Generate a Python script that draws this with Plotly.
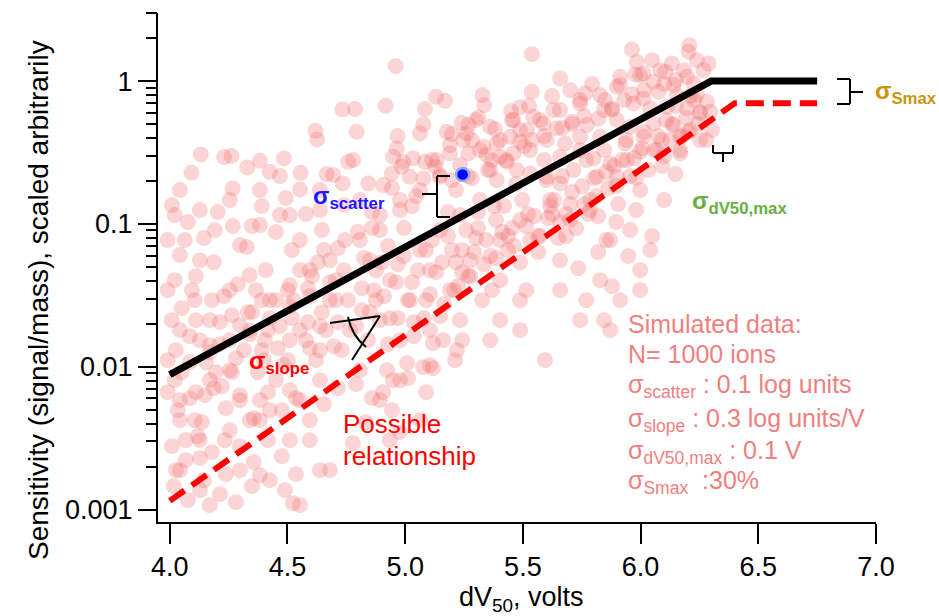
import plotly.graph_objects as go

# ---------------- data ----------------
# simulated ions, read off the picture region by region:
# dV50 (volts) and log10(sensitivity)
upper_left_dv50 = [4.734, 4.619, 4.626, 4.132, 4.231, 4.262, 4.329, 4.383, 4.425, 4.468, 4.485, 4.092, 4.556, 4.666, 4.694, 4.734, 4.267, 4.553, 4.758]
upper_left_logs = [-0.198, -0.348, -0.408, -0.513, -0.532, -0.525, -0.604, -0.558, -0.635, -0.665, -0.541, -0.642, -0.642, -0.651, -0.658, -0.716, -0.751, -0.758, -0.565]

upper_mid_dv50 = [
    4.960, 5.538, 5.328, 5.131, 5.169, 5.336, 5.538, 4.787, 4.917, 5.084, 5.450, 5.488, 5.526, 5.311, 5.361, 5.382, 5.240, 5.268, 5.301,
    5.077, 5.063, 5.177, 5.198, 4.794, 4.968, 5.460, 5.517, 5.545, 5.446, 5.247, 5.261, 5.190, 4.964, 5.332, 5.389, 5.488, 4.949, 4.992,
    5.034, 5.084, 5.134, 5.190, 5.268, 5.346, 5.403, 5.460, 5.531, 4.779, 4.943, 4.985, 5.127, 5.148, 5.077, 5.020, 4.843, 4.907, 5.283,
    5.361, 5.389, 5.474, 5.531, 5.432]
upper_mid_logs = [
    0.105, 0.189, -0.098, -0.110, -0.138, -0.168, -0.075, -0.196, -0.173, -0.196, -0.210, -0.184, -0.175, -0.254, -0.320, -0.336, -0.292, -0.308, -0.273,
    -0.303, -0.366, -0.355, -0.371, -0.355, -0.385, -0.273, -0.343, -0.250, -0.390, -0.413, -0.366, -0.448, -0.471, -0.460, -0.436, -0.425, -0.530, -0.565,
    -0.541, -0.565, -0.553, -0.506, -0.506, -0.518, -0.530, -0.506, -0.483, -0.553, -0.646, -0.600, -0.600, -0.670, -0.681, -0.670, -0.716, -0.728, -0.681,
    -0.623, -0.693, -0.623, -0.646, -0.565]

upper_right_dv50 = [
    6.207, 6.204, 5.963, 5.984, 6.012, 5.977, 6.133, 6.239, 6.289, 6.267, 6.105, 5.658, 5.913, 5.899, 6.197, 6.225, 5.701, 5.764, 6.055,
    6.076, 6.140, 6.154, 6.239, 6.282, 5.630, 5.743, 5.849, 5.878, 5.970, 6.012, 6.041, 6.112, 6.197, 6.253, 6.296, 5.587, 5.644, 5.708,
    5.772, 5.821, 5.899, 5.956, 6.055, 6.140, 6.211, 6.303, 6.253, 6.168, 6.090, 6.012, 5.602, 5.679, 5.743, 5.828, 5.935, 5.998, 6.069,
    6.168, 5.743, 5.658, 5.800, 5.871, 5.942, 6.148, 5.715, 5.814, 5.602, 5.899, 5.658]
upper_right_logs = [
    0.252, 0.205, 0.222, 0.135, 0.054, 0.047, 0.124, 0.147, 0.124, 0.077, 0.065, 0.019, 0.030, -0.040, 0.030, -0.016, -0.063, -0.086, -0.005,
    -0.075, -0.028, -0.098, -0.098, -0.145, -0.203, -0.156, -0.133, -0.191, -0.156, -0.121, -0.191, -0.180, -0.191, -0.226, -0.215, -0.296, -0.331, -0.285,
    -0.308, -0.261, -0.273, -0.320, -0.296, -0.308, -0.343, -0.343, -0.413, -0.390, -0.413, -0.390, -0.413, -0.436, -0.390, -0.390, -0.436, -0.495, -0.483,
    -0.506, -0.483, -0.530, -0.541, -0.576, -0.553, -0.651, -0.623, -0.670, -0.670, -0.670, -0.716]

lower_left_dv50 = [
    4.021, 4.064, 4.128, 4.191, 4.298, 4.383, 4.468, 4.553, 4.638, 4.021, 4.106, 4.255, 4.340, 4.425, 4.510, 4.595, 4.680, 4.043, 4.170,
    4.298, 4.404, 4.553, 4.638, 4.021, 4.149, 4.255, 4.383, 4.510, 4.638, 4.043, 4.128, 4.255, 4.383, 4.510, 4.638, 4.043, 4.128, 4.298,
    4.425, 4.553, 4.170, 4.680, 4.744,
    4.009, 4.077, 4.145, 4.204, 4.268, 4.327, 4.391, 4.451, 4.519, 4.578, 4.646, 4.714, 4.043, 4.187, 4.349, 4.493, 4.629, 4.740,
    3.991, 4.051, 4.111, 4.170, 4.230, 4.289, 4.349, 4.408, 4.468, 4.527, 4.587, 4.646, 4.706, 4.026, 4.085, 4.153, 4.213, 4.281,
    4.340, 4.400, 4.459, 4.519, 4.578, 4.638, 4.697, 4.757, 4.816, 4.876,
    3.991, 4.034, 4.085, 4.136, 4.187, 4.238, 4.298, 4.357, 4.417, 4.476, 4.536, 4.595, 4.655, 4.714, 4.009, 4.068, 4.119, 4.179,
    4.238, 4.298, 4.357, 4.417, 4.476, 4.536, 4.017, 4.077, 4.145, 4.213, 4.281, 4.349, 4.523, 4.051, 4.196,
    4.043, 4.106, 4.170, 4.234, 4.298, 4.340, 4.068, 4.264, 4.128, 4.026,
    4.391, 4.451, 4.510, 4.553, 4.621, 4.663, 4.425, 4.587, 4.485, 4.706, 4.765, 4.816, 4.867, 4.731, 4.842,
    3.991, 4.043, 4.128, 4.255, 4.383, 4.510, 4.638, 4.009, 4.094, 4.179, 4.264, 4.366, 4.451, 4.553, 4.655, 3.991, 4.111, 4.315, 4.417,
    4.595, 4.680, 4.383, 4.489,
    4.740, 4.680, 4.595, 4.510, 4.425, 4.340, 4.255, 4.170, 4.085,
    4.128, 4.213, 4.332, 4.391, 4.502, 4.604, 4.111, 4.221, 4.374, 4.502, 4.595, 4.714]
lower_left_logs = [
    -0.938, -1.113, -1.254, -1.043, -1.148, -1.008, -0.938, -1.113, -0.903, -1.394, -1.534, -1.464, -1.359, -1.534, -1.429, -1.324, -1.254, -1.744, -1.849,
    -1.709, -1.814, -1.744, -1.884, -2.094, -2.199, -2.024, -2.234, -2.164, -2.094, -2.374, -2.514, -2.444, -2.374, -2.514, -2.724, -2.724, -2.864, -2.724,
    -2.794, -2.969, -2.969, -1.534, -1.113,
    -0.868, -0.987, -1.099, -0.917, -1.015, -1.162, -0.875, -1.057, -1.183, -0.931, -1.043, -1.169, -1.218, -1.268, -1.015, -0.819, -1.268, -0.868,
    -1.464, -1.590, -1.366, -1.674, -1.506, -1.422, -1.618, -1.324, -1.716, -1.534, -1.450, -1.618, -1.394, -1.884, -1.786, -1.968, -1.842, -1.940,
    -1.772, -1.954, -1.870, -1.660, -1.814, -1.716, -1.856, -1.534, -1.450, -1.324,
    -2.178, -2.304, -2.220, -2.388, -2.150, -2.290, -2.199, -2.360, -2.178, -2.304, -2.220, -2.374, -2.262, -2.150, -2.556, -2.654, -2.486, -2.598,
    -2.752, -2.556, -2.668, -2.514, -2.626, -2.752, -2.836, -2.934, -2.794, -2.892, -2.948, -2.836, -2.955, -2.038, -2.038,
    -2.234, -2.374, -2.094, -2.514, -2.234, -2.374, -2.514, -2.038, -2.640, -2.724,
    -1.884, -2.094, -1.814, -2.234, -1.954, -1.744, -2.304, -1.688, -1.989, -1.534, -1.744, -1.604, -1.464, -1.884, -1.814,
    -1.113, -0.763, -0.903, -0.833, -0.763, -0.938, -0.763, -1.674, -1.464, -1.534, -1.639, -1.464, -1.534, -1.324, -1.183, -1.954, -1.674, -1.884, -1.744,
    -2.514, -2.724, -2.759, -2.864,
    -1.324, -1.408, -1.506, -1.576, -1.660, -1.744, -1.814, -1.898, -1.968,
    -1.814, -1.688, -1.618, -1.534, -1.464, -1.366, -2.178, -2.136, -2.038, -1.954, -1.870, -1.688]

middle_dv50 = [
    4.808, 4.893, 4.978, 5.063, 5.148, 5.233, 5.318, 5.403, 5.488, 4.850, 4.935, 5.020, 5.105, 5.190, 5.276, 5.403, 5.488, 4.893, 4.978,
    5.105, 5.233, 5.361, 5.488,
    4.808, 4.893, 4.978, 5.105, 5.212, 4.935, 5.063, 5.594,
    4.799, 4.859, 4.927, 4.995, 5.046, 5.114, 5.182, 5.242, 5.310, 5.378, 5.437, 5.522, 4.825, 4.969, 5.157, 5.386, 5.565,
    4.791, 4.850, 4.910, 4.969, 5.029, 5.089, 5.148, 5.208, 4.927, 5.037, 5.267, 5.327, 5.403, 5.514, 5.242,
    4.791, 4.859, 4.944, 5.012, 5.089, 4.833, 4.978,
    4.906, 4.923, 4.948, 5.008, 5.076, 5.118, 5.220, 5.118, 5.161, 4.778,
    4.901, 4.961, 5.012, 5.054, 4.935, 4.995, 4.876, 5.037, 5.088, 5.131, 5.182, 5.216, 5.105, 5.165, 5.224, 5.080,
    5.259, 5.293, 5.344, 5.386, 5.276, 5.335, 5.369, 5.310, 5.420, 5.454, 5.497, 5.548, 5.437, 5.488, 5.531, 5.565, 5.471,
    4.808, 4.893, 4.978, 5.063, 5.148, 5.233, 5.318, 5.403, 5.488,
    4.859, 4.944, 5.029, 5.114, 5.199, 5.284, 5.369, 5.454, 5.539,
    5.199, 5.242, 5.301, 5.361, 5.412, 5.463, 5.514, 5.573,
    5.216, 5.267, 5.352, 5.429, 5.505]
middle_logs = [
    -0.833, -1.043, -0.903, -1.183, -1.043, -0.938, -0.833, -1.113, -0.973, -1.254, -1.394, -1.534, -1.324, -1.464, -1.254, -1.394, -1.534, -1.674, -1.814,
    -1.744, -1.674, -1.814, -1.744,
    -2.024, -2.234, -2.094, -1.989, -1.954, -2.514, -2.374, -1.954,
    -1.057, -0.917, -1.155, -1.029, -0.805, -1.113, -0.917, -1.183, -1.029, -0.875, -1.085, -0.931, -1.239, -1.282, -1.268, -1.239, -1.085,
    -1.716, -1.618, -1.506, -1.660, -1.408, -1.534, -1.646, -1.464, -1.842, -1.786, -1.366, -1.534, -1.674, -1.464, -1.814,
    -2.122, -2.220, -2.304, -2.080, -2.178, -2.388, -2.458,
    -2.178, -2.024, -2.094, -1.975, -2.003, -2.010, -1.884, -1.835, -1.814, -2.535,
    -1.268, -1.408, -1.534, -1.324, -1.660, -1.225, -1.534, -1.688, -1.183, -1.338, -1.085, -1.268, -1.492, -1.562, -1.436, -1.660,
    -1.043, -1.197, -1.113, -0.973, -1.366, -1.282, -1.464, -0.917, -0.875, -1.029, -0.833, -0.945, -1.183, -1.268, -1.113, -1.197, -0.721,
    -1.113, -0.938, -0.833, -0.763, -0.658, -0.588, -0.483, -0.413, -0.343,
    -1.029, -0.749, -0.875, -0.553, -0.693, -0.413, -0.553, -0.273, -0.413,
    -1.183, -1.338, -1.099, -1.225, -1.057, -1.155, -1.015, -1.085,
    -0.763, -0.665, -0.623, -0.553, -0.455]

right_dv50 = [
    5.616, 5.701, 5.786, 5.871, 5.956, 6.041, 5.658, 5.828, 5.913, 5.743, 5.998, 5.854, 5.998, 5.871,
    5.624, 5.684, 5.760, 5.820, 5.896, 5.981, 6.049, 6.100, 5.735, 5.947,
    5.658, 5.769, 5.879, 5.845,
    5.599, 5.633, 5.667, 5.709, 5.607, 5.684, 5.726, 5.650, 5.590,
    5.769, 5.803, 5.845, 5.888, 5.786, 5.862, 5.905, 5.820,
    5.939, 5.973, 6.015, 6.058, 5.956, 6.032, 5.998,
    6.109, 6.151, 6.194, 6.228, 6.126, 6.177, 6.245, 6.100,
    5.573, 5.658, 5.743, 5.828, 5.913, 5.998, 6.083,
    5.624, 5.709, 5.794, 5.879, 5.964, 6.049, 6.151,
    5.616, 5.658, 5.701, 5.752, 5.777, 5.811, 5.854, 5.896, 5.922, 5.981, 6.007, 6.075, 6.092, 6.134, 6.202, 6.253, 6.211, 6.279, 6.168,
    5.590, 5.667, 5.760, 5.845, 5.930, 6.015, 6.100, 6.185]
right_logs = [
    -0.833, -0.973, -0.903, -1.113, -1.043, -1.183, -1.254, -1.394, -1.534, -1.674, -1.464, -1.113, -1.324, -1.744,
    -0.931, -1.085, -0.861, -1.197, -0.987, -0.903, -1.085, -0.833, -1.310, -1.225,
    -1.464, -1.534, -1.436, -1.674,
    -0.693, -0.833, -0.665, -0.777, -0.959, -0.931, -1.029, -1.099, -0.553,
    -0.553, -0.679, -0.483, -0.595, -0.833, -0.749, -0.861, -0.945,
    -0.413, -0.539, -0.357, -0.483, -0.665, -0.623, -0.763,
    -0.273, -0.175, -0.259, -0.133, -0.413, -0.385, -0.301, -0.525,
    -0.273, -0.203, -0.133, -0.098, -0.028, 0.042, 0.077,
    -0.105, -0.301, -0.021, -0.203, -0.091, 0.147, 0.007,
    -0.875, -0.987, -0.861, -0.735, -0.931, -0.805, -0.637, -0.735, -0.553, -0.679, -0.469, -0.385, -0.595, -0.301, -0.357, -0.217, -0.105, -0.413, -0.483,
    -0.385, -0.329, -0.245, -0.203, -0.133, -0.063, -0.021, 0.077]

dv50 = upper_left_dv50 + upper_mid_dv50 + upper_right_dv50 + lower_left_dv50 + middle_dv50 + right_dv50
log10_sens = upper_left_logs + upper_mid_logs + upper_right_logs + lower_left_logs + middle_logs + right_logs
sensitivity = [10 ** v for v in log10_sens]

# model lines
model_x = [4.0, 6.3, 6.75]
model_y = [0.0088, 1.0, 1.0]
possible_x = [4.0, 6.4, 6.75]
possible_y = [0.00115, 0.70, 0.70]

# highlighted ion
ion_x = [5.244]
ion_y = [0.222]

x_ticks = [4.0, 4.5, 5.0, 5.5, 6.0, 6.5, 7.0]
x_ticktext = ["4.0", "4.5", "5.0", "5.5", "6.0", "6.5", "7.0"]
y_ticks = [0.001, 0.01, 0.1, 1]
y_ticktext = ["0.001", "0.01", "0.1", "1"]
y_minor = [m * d for d in (0.001, 0.01, 0.1) for m in range(2, 10)] + [2, 3]

info_lines = [
    "Simulated data:",
    "N= 1000 ions",
    "σ<sub>scatter</sub> : 0.1 log units",
    "σ<sub>slope</sub> : 0.3 log units/V",
    "σ<sub>dV50,max</sub> : 0.1 V",
    "σ<sub>Smax</sub>  :30%",
]

# ---------------- figure ----------------
W, H = 939, 616
L, R, T, B = 158, 63, 13, 94
PW, PH = W - L - R, H - T - B

def px(xp):
    return (xp - L) / PW

def py(yp):
    return (H - B - yp) / PH

FONT = "Liberation Sans, Arial, sans-serif"

fig = go.Figure()
fig.add_trace(go.Scatter(
    x=dv50, y=sensitivity, mode="markers",
    marker=dict(size=16, color="rgba(240,100,100,0.27)", line=dict(width=0)),
    showlegend=False, hoverinfo="skip"))
fig.add_trace(go.Scatter(
    x=possible_x, y=possible_y, mode="lines",
    line=dict(color="#ff0000", width=6, dash="18px,9px"), showlegend=False))
fig.add_trace(go.Scatter(
    x=model_x, y=model_y, mode="lines",
    line=dict(color="black", width=7), showlegend=False))
fig.add_trace(go.Scatter(
    x=ion_x, y=ion_y, mode="markers",
    marker=dict(size=13, color="#0000ff", line=dict(color="rgb(140,175,240)", width=2.5)),
    showlegend=False))
# invisible trace so the minor-tick axis is drawn
fig.add_trace(go.Scatter(x=[4.0], y=[0.01], yaxis="y2", mode="markers",
                         marker=dict(opacity=0), showlegend=False, hoverinfo="skip"))

y_range = [-3.087, 0.477]

fig.update_layout(
    width=W, height=H,
    margin=dict(l=L, r=R, t=T, b=B),
    paper_bgcolor="white", plot_bgcolor="white",
    font=dict(family=FONT, size=27, color="black"),
    xaxis=dict(
        range=[3.95, 7.0], tickvals=x_ticks, ticktext=x_ticktext,
        ticks="outside", ticklen=20, tickwidth=2, tickcolor="black",
        showline=True, linewidth=2, linecolor="black", showgrid=False, zeroline=False,
        tickfont=dict(size=27),
    ),
    yaxis=dict(
        type="log", range=y_range, tickvals=y_ticks, ticktext=y_ticktext,
        ticks="outside", ticklen=18, tickwidth=2, tickcolor="black",
        showline=True, linewidth=2, linecolor="black", showgrid=False, zeroline=False,
        tickfont=dict(size=27),
    ),
    yaxis2=dict(
        type="log", range=y_range, overlaying="y", side="left", tickvals=y_minor,
        ticks="outside", ticklen=11, tickwidth=2, tickcolor="black",
        showticklabels=False, showline=False, showgrid=False, zeroline=False,
    ),
)

# ---- bracket / symbol decorations (pixel positions converted to paper) ----
def seg(x0, y0, x1, y1, w=2):
    fig.add_shape(type="line", xref="paper", yref="paper",
                  x0=px(x0), y0=py(y0), x1=px(x1), y1=py(y1),
                  line=dict(color="black", width=w))

# sigma Smax bracket
seg(837, 79, 850, 79); seg(837, 104, 850, 104); seg(850, 79, 850, 104); seg(850, 92, 863, 92)
# sigma dV50,max bracket
seg(713, 145, 713, 153); seg(733, 145, 733, 153); seg(713, 153, 733, 153); seg(723, 153, 723, 162)
# sigma scatter bracket
seg(437, 176, 437, 217); seg(437, 176, 450, 176); seg(437, 217, 450, 217); seg(422, 194, 437, 194)
# sigma slope angle
seg(330, 323, 380, 316); seg(380, 316, 352, 360)
fig.add_shape(type="path", xref="paper", yref="paper",
              path="M {:.4f},{:.4f} Q {:.4f},{:.4f} {:.4f},{:.4f}".format(
                  px(348), py(317), px(352), py(336), px(366), py(347)),
              line=dict(color="black", width=2))

def note(text, x, y, color, size, xanchor="left", yanchor="middle", angle=0):
    fig.add_annotation(text=text, xref="paper", yref="paper", x=px(x), y=py(y),
                       xanchor=xanchor, yanchor=yanchor, align="left", showarrow=False,
                       textangle=angle, font=dict(family=FONT, size=size, color=color))

# axis titles
note("dV<sub>50</sub>, volts", 521, 599, "black", 27, xanchor="center")
note("Sensitivity (signal/mass), scaled arbitrarily", 38, 300, "black", 28,
     xanchor="center", angle=-90)

note("<b>σ<sub>Smax</sub></b>", 873, 92, "#c8960a", 24)
note("<b>σ<sub>dV50,max</sub></b>", 690, 202, "#6aad45", 24)
note("<b>σ<sub>scatter</sub></b>", 311, 197, "#1a1aff", 24)
note("<b>σ<sub>slope</sub></b>", 247, 362, "#ff0000", 24)
note("Possible", 341, 424, "#ff0000", 26)
note("relationship", 341, 456, "#ff0000", 26)

info_y = [324, 354, 386, 420, 452, 482]
for line_text, yy in zip(info_lines, info_y):
    note(line_text, 626, yy, "#f08080", 25)

fig.write_html("out.html")
